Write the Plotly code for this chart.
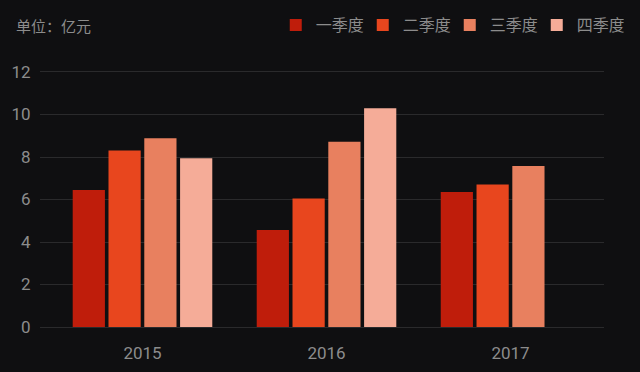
import plotly.graph_objects as go

years = ["2015", "2016", "2017"]
series_names = ["一季度", "二季度", "三季度", "四季度"]
q1 = [6.45, 4.56, 6.35]
q2 = [8.30, 6.05, 6.71]
q3 = [8.88, 8.72, 7.58]
q4 = [7.94, 10.29, None]
colors = ["#bf1d0b", "#e8461e", "#e8805f", "#f5ac98"]
unit_label = "单位：亿元"

BG = "#0f0f11"
GRID = "#2a2a2c"
TXT = "#8c8c8c"
FONT = "Roboto, Noto Sans CJK SC, sans-serif"

fig = go.Figure()
for name, vals, c in zip(series_names, [q1, q2, q3, q4], colors):
    fig.add_trace(go.Bar(x=years, y=vals, name=name, marker=dict(color=c, line_width=0)))

fig.update_layout(
    width=640, height=372,
    paper_bgcolor=BG, plot_bgcolor=BG,
    margin=dict(l=40, r=36, t=66, b=45, autoexpand=False),
    barmode="group", bargap=0.222, bargroupgap=0.1,
    font=dict(family=FONT, color=TXT, size=15),
    showlegend=True,
    legend=dict(orientation="h", x=0.418, xanchor="left", y=1.157, yanchor="middle",
                font=dict(size=16, color=TXT, family="Noto Sans CJK SC, sans-serif"),
                bgcolor="rgba(0,0,0,0)", itemclick=False, entrywidth=42),
    annotations=[dict(text=unit_label, xref="paper", yref="paper", x=-0.046, y=1.157,
                      xanchor="left", yanchor="middle", showarrow=False,
                      font=dict(size=15, color=TXT, family="Noto Sans CJK SC, sans-serif"))],
)
fig.update_xaxes(type="category", range=[-0.557, 2.508], showgrid=False, zeroline=False,
                 showline=False, ticks="outside", ticklen=11, tickcolor=BG,
                 tickfont=dict(size=17, color=TXT))
fig.update_yaxes(range=[0, 12.282], tickvals=[0, 2, 4, 6, 8, 10, 12], showgrid=True,
                 gridcolor=GRID, gridwidth=1,
                 zeroline=True, zerolinecolor=GRID, zerolinewidth=1, showline=False,
                 ticks="outside", ticklen=5, tickcolor=BG, tickfont=dict(size=17, color=TXT))
fig.write_html("out.html")
